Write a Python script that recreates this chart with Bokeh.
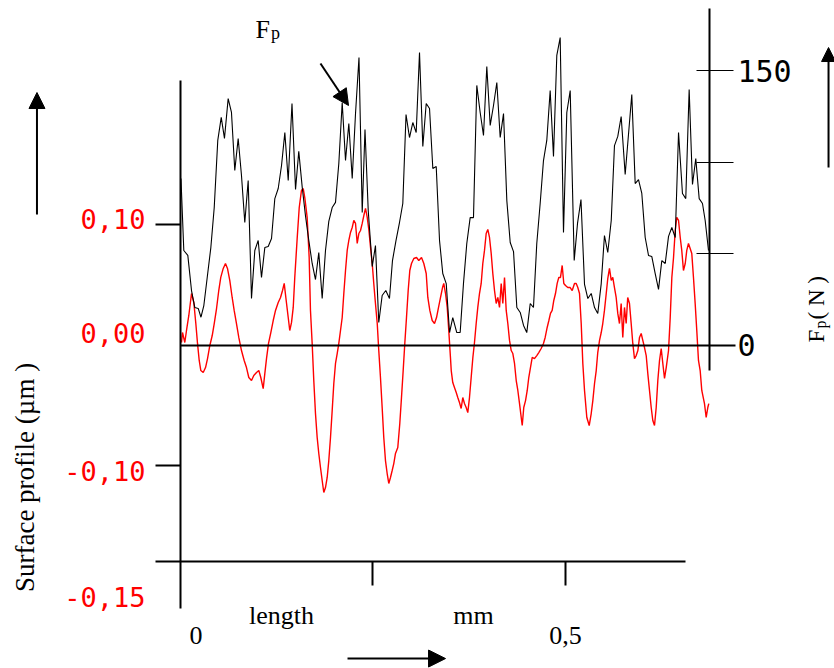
from bokeh.plotting import figure
from bokeh.models import (Range1d, LinearAxis, FixedTicker, Arrow, NormalHead)
from bokeh.core.properties import value
from bokeh.embed import file_html
from bokeh.resources import INLINE
import math

# ---------------- data ----------------
# Force Fp (N) versus length (mm) – black line
fp_x = [0.0006, 0.0043, 0.0095, 0.0143, 0.0186, 0.0230, 0.0266, 0.0303, 0.0347, 0.0394,
        0.0438, 0.0484, 0.0529, 0.0571, 0.0619, 0.0662, 0.0705, 0.0749, 0.0792, 0.0835,
        0.0879, 0.0922, 0.0965, 0.1009, 0.1052, 0.1095, 0.1139, 0.1182, 0.1225, 0.1269,
        0.1312, 0.1355, 0.1399, 0.1448, 0.1494, 0.1536, 0.1581, 0.1623, 0.1666, 0.1710,
        0.1753, 0.1796, 0.1840, 0.1883, 0.1926, 0.1970, 0.2013, 0.2056, 0.2100, 0.2143,
        0.2186, 0.2230, 0.2273, 0.2318, 0.2360, 0.2396, 0.2438, 0.2490, 0.2532, 0.2575,
        0.2619, 0.2666, 0.2714, 0.2753, 0.2799, 0.2844, 0.2887, 0.2929, 0.2974, 0.3017,
        0.3061, 0.3104, 0.3147, 0.3191, 0.3234, 0.3277, 0.3321, 0.3364, 0.3406, 0.3451,
        0.3494, 0.3536, 0.3588, 0.3632, 0.3675, 0.3718, 0.3762, 0.3805, 0.3848, 0.3892,
        0.3935, 0.3978, 0.4022, 0.4065, 0.4108, 0.4152, 0.4195, 0.4238, 0.4282, 0.4325,
        0.4368, 0.4412, 0.4455, 0.4497, 0.4542, 0.4584, 0.4627, 0.4671, 0.4714, 0.4757,
        0.4801, 0.4844, 0.4887, 0.4931, 0.4974, 0.5017, 0.5061, 0.5113, 0.5156, 0.5201,
        0.5247, 0.5290, 0.5334, 0.5377, 0.5419, 0.5464, 0.5506, 0.5549, 0.5594, 0.5636,
        0.5679, 0.5723, 0.5775, 0.5861, 0.5905, 0.5948, 0.5991, 0.6035, 0.6078, 0.6121,
        0.6165, 0.6208, 0.6251, 0.6295, 0.6338, 0.6381, 0.6425, 0.6468, 0.6519, 0.6562,
        0.6606, 0.6649, 0.6692, 0.6736, 0.6779, 0.6814, 0.6857]
fp_n = [91.1, 51.7, 49.0, 29.8, 20.5, 20.0, 15.2, 21.6, 36.9, 53.3,
        75.2, 111.9, 124.5, 113.0, 134.8, 127.2, 95.5, 113.0, 92.7, 67.0,
        90.0, 25.4, 51.7, 57.2, 36.9, 53.3, 53.9, 58.3, 80.1, 85.6,
        98.2, 116.2, 90.0, 132.1, 85.1, 105.9, 86.2, 70.8, 57.2, 44.6,
        35.8, 50.6, 25.4, 51.7, 67.6, 75.2, 78.0, 99.3, 132.7, 100.9,
        121.2, 91.1, 126.6, 157.3, 72.5, 117.9, 73.6, 42.9, 54.4, 12.3,
        27.1, 29.8, 25.4, 46.2, 57.2, 67.0, 77.4, 126.1, 113.5, 121.7,
        116.2, 160.0, 108.6, 132.1, 129.4, 96.6, 97.6, 57.2, 39.1, 33.6,
        6.8, 15.0, 6.8, 6.8, 33.6, 55.5, 69.7, 69.7, 142.0, 127.2,
        114.6, 152.4, 120.1, 131.0, 143.6, 113.5, 126.6, 79.0, 56.1, 51.1,
        20.5, 17.8, 10.7, 6.8, 22.7, 20.5, 55.5, 77.4, 100.9, 111.9,
        139.2, 103.1, 158.4, 168.2, 61.5, 127.2, 139.2, 46.2, 66.5, 79.6,
        33.1, 25.4, 28.2, 20.5, 17.2, 33.6, 59.9, 50.6, 68.1, 109.1,
        114.1, 125.0, 93.3, 137.0, 88.3, 90.5, 82.9, 58.8, 49.0, 48.4,
        39.1, 30.4, 46.2, 44.6, 59.4, 64.3, 58.8, 116.2, 82.9, 80.1,
        139.8, 87.8, 102.0, 80.1, 77.4, 68.1, 51.7]

# Surface profile (um) versus length (mm) – red line
prof_x = [0.0013, 0.0026, 0.0056, 0.0078, 0.0108, 0.0143, 0.0173, 0.0199, 0.0221, 0.0243,
          0.0264, 0.0295, 0.0325, 0.0351, 0.0381, 0.0412, 0.0438, 0.0468, 0.0497, 0.0523,
          0.0555, 0.0584, 0.0610, 0.0640, 0.0671, 0.0697, 0.0727, 0.0757, 0.0792, 0.0827,
          0.0857, 0.0887, 0.0922, 0.0952, 0.0987, 0.1017, 0.1043, 0.1074, 0.1095, 0.1117,
          0.1143, 0.1173, 0.1204, 0.1234, 0.1269, 0.1299, 0.1325, 0.1347, 0.1368, 0.1399,
          0.1419, 0.1442, 0.1464, 0.1484, 0.1516, 0.1542, 0.1571, 0.1594, 0.1614, 0.1645,
          0.1671, 0.1688, 0.1710, 0.1731, 0.1753, 0.1775, 0.1796, 0.1818, 0.1840, 0.1861,
          0.1883, 0.1905, 0.1926, 0.1948, 0.1970, 0.1991, 0.2013, 0.2035, 0.2056, 0.2078,
          0.2100, 0.2121, 0.2143, 0.2165, 0.2186, 0.2208, 0.2230, 0.2251, 0.2273, 0.2295,
          0.2316, 0.2338, 0.2360, 0.2381, 0.2403, 0.2425, 0.2447, 0.2468, 0.2490, 0.2510,
          0.2532, 0.2555, 0.2575, 0.2597, 0.2619, 0.2640, 0.2662, 0.2684, 0.2705, 0.2727,
          0.2749, 0.2770, 0.2792, 0.2822, 0.2848, 0.2870, 0.2892, 0.2913, 0.2935, 0.2957,
          0.2978, 0.3000, 0.3030, 0.3065, 0.3095, 0.3130, 0.3160, 0.3191, 0.3212, 0.3238,
          0.3269, 0.3299, 0.3325, 0.3351, 0.3377, 0.3403, 0.3419, 0.3442, 0.3464, 0.3484,
          0.3506, 0.3516, 0.3536, 0.3558, 0.3581, 0.3601, 0.3623, 0.3645, 0.3666, 0.3688,
          0.3710, 0.3731, 0.3753, 0.3775, 0.3797, 0.3818, 0.3840, 0.3861, 0.3883, 0.3905,
          0.3926, 0.3948, 0.3970, 0.3991, 0.4013, 0.4035, 0.4056, 0.4078, 0.4100, 0.4121,
          0.4143, 0.4165, 0.4186, 0.4208, 0.4230, 0.4251, 0.4273, 0.4295, 0.4316, 0.4338,
          0.4360, 0.4381, 0.4403, 0.4425, 0.4438, 0.4458, 0.4481, 0.4503, 0.4523, 0.4545,
          0.4568, 0.4597, 0.4627, 0.4653, 0.4684, 0.4714, 0.4736, 0.4762, 0.4784, 0.4805,
          0.4827, 0.4848, 0.4870, 0.4892, 0.4913, 0.4935, 0.4957, 0.4978, 0.5000, 0.5030,
          0.5061, 0.5087, 0.5117, 0.5139, 0.5160, 0.5182, 0.5204, 0.5225, 0.5247, 0.5277,
          0.5308, 0.5334, 0.5355, 0.5377, 0.5399, 0.5419, 0.5442, 0.5464, 0.5484, 0.5506,
          0.5529, 0.5549, 0.5571, 0.5594, 0.5614, 0.5636, 0.5658, 0.5679, 0.5701, 0.5723,
          0.5744, 0.5766, 0.5788, 0.5808, 0.5831, 0.5853, 0.5874, 0.5896, 0.5918, 0.5940,
          0.5961, 0.5983, 0.6004, 0.6026, 0.6048, 0.6069, 0.6091, 0.6113, 0.6134, 0.6156,
          0.6178, 0.6199, 0.6221, 0.6243, 0.6264, 0.6286, 0.6308, 0.6338, 0.6360, 0.6381,
          0.6403, 0.6425, 0.6445, 0.6468, 0.6490, 0.6510, 0.6532, 0.6555, 0.6575, 0.6597,
          0.6619, 0.6640, 0.6662, 0.6684, 0.6705, 0.6727, 0.6749, 0.6770, 0.6805, 0.6827,
          0.6848, 0.6861]
prof_um = [0.0021, 0.0104, 0.0021, 0.0121, 0.0246, 0.0429, 0.0354, 0.0179, 0.0013, -0.0129,
           -0.0213, -0.0229, -0.0188, -0.0113, -0.0004, 0.0079, 0.0179, 0.0304, 0.0454, 0.0563,
           0.0638, 0.0679, 0.0638, 0.0538, 0.0396, 0.0288, 0.0179, 0.0063, -0.0046, -0.0129,
           -0.0188, -0.0271, -0.0296, -0.0254, -0.0229, -0.0213, -0.0271, -0.0363, -0.0238, -0.0113,
           0.0013, 0.0104, 0.0204, 0.0288, 0.0354, 0.0396, 0.0454, 0.0513, 0.0396, 0.0229,
           0.0121, 0.0188, 0.0313, 0.0563, 0.0896, 0.1146, 0.1288, 0.1304, 0.1229, 0.1063,
           0.0729, 0.0288, 0.0013, -0.0296, -0.0571, -0.0771, -0.0904, -0.1021, -0.1129, -0.1229,
           -0.1188, -0.1104, -0.0963, -0.0771, -0.0546, -0.0321, -0.0154, -0.0071, 0.0013, 0.0121,
           0.0229, 0.0429, 0.0621, 0.0788, 0.0871, 0.0938, 0.0979, 0.1038, 0.1013, 0.0846,
           0.0929, 0.0954, 0.1013, 0.1079, 0.1138, 0.1063, 0.0954, 0.0813, 0.0679, 0.0513,
           0.0346, 0.0179, -0.0046, -0.0271, -0.0521, -0.0771, -0.0963, -0.1071, -0.1154, -0.1104,
           -0.1046, -0.0988, -0.0904, -0.0854, -0.0654, -0.0438, -0.0213, 0.0013, 0.0229, 0.0454,
           0.0621, 0.0679, 0.0721, 0.0729, 0.0704, 0.0729, 0.0679, 0.0596, 0.0396, 0.0288,
           0.0204, 0.0179, 0.0229, 0.0313, 0.0396, 0.0479, 0.0513, 0.0429, 0.0313, 0.0121,
           -0.0104, -0.0213, -0.0313, -0.0354, -0.0396, -0.0438, -0.0479, -0.0529, -0.0438, -0.0488,
           -0.0521, -0.0563, -0.0438, -0.0271, -0.0104, 0.0021, 0.0179, 0.0313, 0.0429, 0.0513,
           0.0679, 0.0788, 0.0929, 0.0963, 0.0896, 0.0763, 0.0596, 0.0454, 0.0346, 0.0396,
           0.0313, 0.0513, 0.0346, 0.0563, 0.0288, 0.0179, 0.0038, -0.0046, -0.0071, -0.0154,
           -0.0296, -0.0379, -0.0488, -0.0604, -0.0671, -0.0521, -0.0463, -0.0379, -0.0271, -0.0188,
           -0.0104, -0.0113, -0.0088, -0.0063, -0.0029, 0.0013, 0.0063, 0.0146, 0.0204, 0.0263,
           0.0288, 0.0371, 0.0429, 0.0513, 0.0563, 0.0563, 0.0663, 0.0513, 0.0496, 0.0479,
           0.0479, 0.0454, 0.0513, 0.0513, 0.0479, 0.0429, 0.0179, -0.0154, -0.0379, -0.0604,
           -0.0671, -0.0571, -0.0463, -0.0321, -0.0213, -0.0063, 0.0038, 0.0104, 0.0179, 0.0288,
           0.0429, 0.0554, 0.0638, 0.0538, 0.0563, 0.0479, 0.0396, 0.0263, 0.0179, 0.0346,
           0.0063, 0.0313, 0.0179, 0.0396, 0.0346, 0.0179, 0.0013, -0.0113, -0.0088, -0.0046,
           0.0063, 0.0096, 0.0038, -0.0021, -0.0088, -0.0238, -0.0379, -0.0521, -0.0629, -0.0671,
           -0.0521, -0.0296, -0.0129, -0.0029, -0.0154, -0.0279, -0.0188, -0.0046, 0.0229, 0.0563,
           0.0729, 0.0954, 0.1063, 0.1038, 0.0896, 0.0788, 0.0621, 0.0679, 0.0788, 0.0846,
           0.0804, 0.0763, 0.0563, 0.0346, 0.0121, -0.0129, -0.0213, -0.0379, -0.0488, -0.0604,
           -0.0521, -0.0488]

# axis tick values and labels
profile_ticks = [0.10, -0.10]
profile_label_pos = [0.105, 0.010, -0.105, -0.210]
profile_labels = ["0,10", "0,00", "-0,10", "-0,15"]
length_ticks = [0.25, 0.50]
length_label_pos = [0.02, 0.50]
length_labels = ["0", "0,5"]
force_ticks = [0, 50, 100, 150]
force_labels = ["0", "", "", "150"]

RED = "#ff0000"
MONO = "DejaVu Sans Mono"
SERIF = "Liberation Serif"

p = figure(width=834, height=668, output_backend="svg", toolbar_location=None,
           x_range=Range1d(-0.233766, 0.849351), y_range=Range1d(-0.269583, 0.287083),
           x_axis_location=None, y_axis_location=None, min_border=0)
p.extra_y_ranges = {"fp": Range1d(-176.969, 188.457)}
p.outline_line_color = None
p.grid.visible = False
p.background_fill_color = "white"
p.border_fill_color = "white"

# data lines
p.line(prof_x, prof_um, line_color=RED, line_width=1.4)
p.line(fp_x, fp_n, line_color="black", line_width=1.1, y_range_name="fp")

# left (surface profile) axis: line + ticks
ax_l = LinearAxis(fixed_location=0.0, bounds=(-0.2196, 0.2204),
                  ticker=FixedTicker(ticks=profile_ticks))
ax_l.axis_line_width = 2
ax_l.major_tick_line_width = 2
ax_l.major_tick_out = 25
ax_l.major_tick_in = 0
ax_l.major_label_text_color = None
ax_l.major_label_text_font_size = "0px"
p.add_layout(ax_l, "left")

# left axis labels
ax_l2 = LinearAxis(fixed_location=0.0, ticker=FixedTicker(ticks=profile_label_pos))
ax_l2.axis_line_color = None
ax_l2.major_tick_line_color = None
ax_l2.major_tick_out = 0
ax_l2.major_tick_in = 0
ax_l2.major_label_standoff = 35
ax_l2.major_label_overrides = dict(zip(profile_label_pos, profile_labels))
ax_l2.major_label_text_color = RED
ax_l2.major_label_text_font = MONO
ax_l2.major_label_text_font_size = "27px"
p.add_layout(ax_l2, "left")

# bottom (length) axis: line + ticks
ax_b = LinearAxis(fixed_location=-0.1804, bounds=(-0.0325, 0.6558),
                  ticker=FixedTicker(ticks=length_ticks))
ax_b.axis_line_width = 2
ax_b.major_tick_line_width = 2
ax_b.major_tick_out = 24
ax_b.major_tick_in = 0
ax_b.major_label_text_color = None
ax_b.major_label_text_font_size = "0px"
p.add_layout(ax_b, "below")

# bottom axis labels
ax_b2 = LinearAxis(fixed_location=-0.1804, ticker=FixedTicker(ticks=length_label_pos))
ax_b2.axis_line_color = None
ax_b2.major_tick_line_color = None
ax_b2.major_tick_out = 0
ax_b2.major_tick_in = 0
ax_b2.major_label_standoff = 66
ax_b2.major_label_overrides = dict(zip(length_label_pos, length_labels))
ax_b2.major_label_text_font = SERIF
ax_b2.major_label_text_font_size = "26px"
ax_b2.major_label_text_color = "black"
p.add_layout(ax_b2, "below")

# zero line of the profile
ax_0 = LinearAxis(fixed_location=0.0, bounds=(0.0, 0.7208), ticker=FixedTicker(ticks=[]))
ax_0.axis_line_width = 2
ax_0.major_label_text_color = None
ax_0.major_label_text_font_size = "0px"
p.add_layout(ax_0, "below")

# right (force) axis
ax_r = LinearAxis(y_range_name="fp", fixed_location=0.687, bounds=(-13.9, 184.0),
                  ticker=FixedTicker(ticks=force_ticks))
ax_r.axis_line_width = 2
ax_r.major_tick_line_width = 1
ax_r.major_tick_out = 24
ax_r.major_tick_in = 13
ax_r.major_label_standoff = 4
ax_r.major_label_overrides = dict(zip(force_ticks, force_labels))
ax_r.major_label_text_font = MONO
ax_r.major_label_text_font_size = "30px"
ax_r.major_label_text_color = "black"
p.add_layout(ax_r, "right")

# texts
serif = value(SERIF)
p.text(x=[-0.2013], y=[-0.1104], text=["Surface profile (\u00b5m )"], angle=math.pi / 2,
       text_font=serif, text_font_size="27px", text_align="center",
       text_baseline="middle", text_color="black")
p.text(x=[0.1312, 0.3805], y=[-0.2254, -0.2254], text=["length", "mm"],
       text_font=serif, text_font_size="26px", text_align="center",
       text_baseline="alphabetic", text_color="black")
# F_p at the top
p.text(x=[0.0974], y=[0.2629], text=["F"], text_font=serif, text_font_size="26px",
       text_align="left", text_baseline="alphabetic", text_color="black")
p.text(x=[0.1175], y=[0.2596], text=["p"], text_font=serif, text_font_size="18px",
       text_align="left", text_baseline="alphabetic", text_color="black")
# F_p ( N ) on the right, rotated
p.text(x=[0.8260], y=[0.0021], text=["F"], angle=math.pi / 2, text_font=serif,
       text_font_size="23px", text_align="left", text_baseline="alphabetic",
       text_color="black")
p.text(x=[0.8312], y=[0.0138], text=["p"], angle=math.pi / 2, text_font=serif,
       text_font_size="16px", text_align="left", text_baseline="alphabetic",
       text_color="black")
p.text(x=[0.8260], y=[0.0213], text=["( N )"], angle=math.pi / 2, text_font=serif,
       text_font_size="23px", text_align="left", text_baseline="alphabetic",
       text_color="black")

# arrows
def arrow(xs, ys, xe, ye, size):
    p.add_layout(Arrow(end=NormalHead(size=size, fill_color="black", line_color="black"),
                       x_start=xs, y_start=ys, x_end=xe, y_end=ye,
                       line_width=2, line_color="black"))

arrow(-0.1864, 0.1088, -0.1864, 0.2104, 16)
arrow(0.8416, 0.1479, 0.8416, 0.2479, 14)
arrow(0.2169, -0.2613, 0.3442, -0.2613, 17)
arrow(0.1818, 0.2346, 0.2182, 0.1996, 16)

open("out.html", "w").write(file_html(p, INLINE))
